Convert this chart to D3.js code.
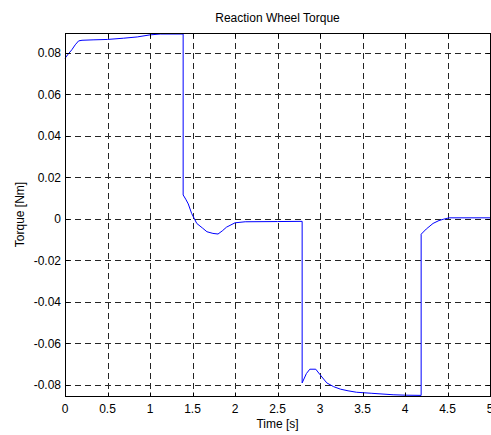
<!DOCTYPE html>
<html><head><meta charset="utf-8">
<script src="https://cdn.jsdelivr.net/npm/d3@7"></script>
<style>
html,body{margin:0;padding:0;background:#fff;}
svg{display:block;}
text{font-family:"Liberation Sans",Arial,Helvetica,sans-serif;fill:#000;}
</style></head>
<body>
<svg id="chart" width="491" height="435"></svg>
<script>
const title = "Reaction Wheel Torque";
const xLabel = "Time [s]";
const yLabel = "Torque [Nm]";
const xTicks = [0, 0.5, 1, 1.5, 2, 2.5, 3, 3.5, 4, 4.5, 5];
const xTickLabels = ["0","0.5","1","1.5","2","2.5","3","3.5","4","4.5","5"];
const yTicks = [-0.08, -0.06, -0.04, -0.02, 0, 0.02, 0.04, 0.06, 0.08];
const yTickLabels = ["-0.08","-0.06","-0.04","-0.02","0","0.02","0.04","0.06","0.08"];
const time = [0, 0.04, 0.08, 0.12, 0.16, 0.2, 0.33, 0.5, 0.69, 0.85, 1.0, 1.12, 1.39, 1.39, 1.42, 1.45, 1.49, 1.55, 1.62, 1.67, 1.74, 1.80, 1.85, 1.90, 2.0, 2.12, 2.5, 2.79, 2.79, 2.84, 2.88, 2.95, 3.0, 3.08, 3.16, 3.24, 3.33, 3.43, 3.61, 3.86, 4.0, 4.19, 4.19, 4.25, 4.33, 4.40, 4.45, 4.52, 5.0];
const torque = [0.0773, 0.0795, 0.0814, 0.0838, 0.0857, 0.0860, 0.0862, 0.0864, 0.0870, 0.0876, 0.0886, 0.0890, 0.0890, 0.0115, 0.0095, 0.0072, 0.0026, -0.0022, -0.0045, -0.0062, -0.0070, -0.0073, -0.0058, -0.0040, -0.0019, -0.0014, -0.0013, -0.0012, -0.0790, -0.0745, -0.0724, -0.0724, -0.0750, -0.0790, -0.0808, -0.0820, -0.0828, -0.0835, -0.0840, -0.0847, -0.0849, -0.0850, -0.0074, -0.0049, -0.0022, -0.0008, -0.0002, 0.0005, 0.0005];

const L = 65, R = 490, T = 33, B = 396;
const svg = d3.select("#chart");
const x = d3.scaleLinear().domain([0, 5]).range([L, R]);
const y = d3.scaleLinear().domain([-0.0853, 0.0895]).range([B, T]);
const px = v => Math.round(v) + 0.5;

// grid
const grid = svg.append("g").attr("stroke", "#000").attr("stroke-width", 1).attr("stroke-dasharray", "6,4").attr("opacity", 0.85);
xTicks.filter(t => t > 0 && t < 5).forEach(t => {
  grid.append("line").attr("x1", px(x(t))).attr("x2", px(x(t))).attr("y1", T).attr("y2", B);
});
yTicks.forEach(t => {
  grid.append("line").attr("y1", px(y(t))).attr("y2", px(y(t))).attr("x1", L).attr("x2", R);
});

// data line
const data = time.map((t, i) => [t, torque[i]]);
svg.append("path").datum(data)
  .attr("fill", "none").attr("stroke", "#0000ff").attr("stroke-width", 1)
  .attr("d", d3.line().x(d => x(d[0])).y(d => y(d[1])));

// axes with inward ticks
const tl = 4;
const ax = svg.append("g").attr("stroke", "#000").attr("stroke-width", 1);
xTicks.forEach(t => {
  const xx = px(x(t));
  ax.append("line").attr("x1", xx).attr("x2", xx).attr("y1", px(B)).attr("y2", px(B) - tl);
  ax.append("line").attr("x1", xx).attr("x2", xx).attr("y1", px(T)).attr("y2", px(T) + tl);
});
yTicks.forEach(t => {
  const yy = px(y(t));
  ax.append("line").attr("x1", px(L)).attr("x2", px(L) + tl).attr("y1", yy).attr("y2", yy);
  ax.append("line").attr("x1", px(R)).attr("x2", px(R) - tl).attr("y1", yy).attr("y2", yy);
});
ax.append("rect").attr("x", px(L)).attr("y", px(T)).attr("width", px(R) - px(L)).attr("height", px(B) - px(T)).attr("fill", "none");

// tick labels
svg.append("g").selectAll("text").data(xTicks).join("text")
  .attr("x", d => x(d)).attr("y", 413).attr("text-anchor", "middle")
  .attr("font-size", 12).text((d, i) => xTickLabels[i]);
svg.append("g").selectAll("text").data(yTicks).join("text")
  .attr("x", 61).attr("y", d => y(d) + 4.3).attr("text-anchor", "end")
  .attr("font-size", 12).text((d, i) => yTickLabels[i]);

// labels
svg.append("text").attr("x", (L + R) / 2).attr("y", 21.5).attr("text-anchor", "middle").attr("font-size", 12).text(title);
svg.append("text").attr("x", (L + R) / 2).attr("y", 428).attr("text-anchor", "middle").attr("font-size", 12).text(xLabel);
svg.append("text").attr("transform", `translate(24,${(T + B) / 2}) rotate(-90)`).attr("text-anchor", "middle").attr("font-size", 12).text(yLabel);
</script>
</body></html>
